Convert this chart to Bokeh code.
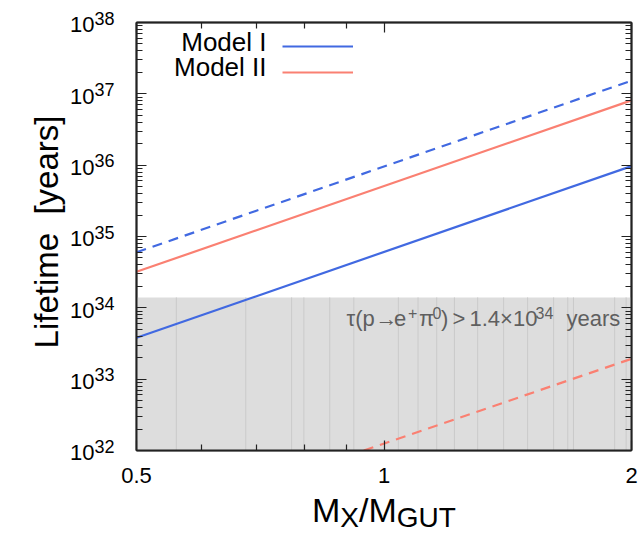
import math
from bokeh.plotting import figure
from bokeh.layouts import row, column
from bokeh.models import (Range1d, LogAxis, FixedTicker, CustomJSTickFormatter,
                          BoxAnnotation, Label, Legend, LegendItem)
from bokeh.embed import file_html
from bokeh.resources import INLINE

# ---------------- data ----------------
mass = [0.5, 2.0]                       # M_X / M_GUT
model1_solid = [3.8e33, 9.7e35]
model1_dashed = [6.0e34, 1.53e37]
model2_solid = [3.2e34, 8.1e36]
model2_dashed_mass = [0.945, 2.0]       # visible part of the Model II dashed line
model2_dashed = [1.0e32, 1.93e33]
limit = 1.4e34                          # tau(p -> e+ pi0) bound
band_lines = [0.559, 0.679, 0.772, 0.799, 0.859, 0.919, 1.041, 1.10, 1.159,
              1.218, 1.30, 1.398, 1.495, 1.608, 1.673, 1.70, 1.908, 1.97]
x_ticks = [0.5, 1, 2]
x_minor = [0.6, 0.7, 0.8, 0.9]
y_exps = [32, 33, 34, 35, 36, 37, 38]
legend_names = ["Model I", "Model II"]
y_title = "Lifetime\u00a0\u00a0[years]"
# annotation pieces: (text, x offset from right edge, superscript?)
annotation = [("τ(p", -285, False), ("→", -256, False), ("e", -237.5, False),
              ("+", -223.5, True), ("π", -212.5, False), ("0", -199, True),
              (")", -190.5, False), (">", -179, False), ("1.4×10", -162, False),
              ("34", -96, True), ("years", -65, False)]

BLUE = "#4169E1"
RED = "#FA8072"
FONT = "Liberation Sans"
MID = 0.3465   # distance baseline -> text middle, in font sizes

# ---------------- layout constants ----------------
W, H = 643, 533
LEFT_W = 120
FRAME_LEFT, FRAME_TOP, FRAME_W, FRAME_H = 136, 22, 495, 428
MAIN_H = 490
Y_MIN_EXP, Y_MAX_EXP = y_exps[0], y_exps[-1]

y_ticks = [10.0 ** k for k in y_exps]
y_minor = [m * 10.0 ** k for k in y_exps[:-1] for m in range(2, 10)]


def text_label(x, y, txt, dx, baseline_below, size, align="left", color="black", angle=0.0):
    """Label whose alphabetic baseline sits `baseline_below` px under (x, y)."""
    return Label(x=x, y=y, x_offset=dx, y_offset=-(baseline_below - MID * size),
                 text=txt, text_align=align, text_baseline="middle", angle=angle,
                 text_font=FONT, text_font_size=f"{size}px", text_color=color)


# ---------------- main plot ----------------
p = figure(width=W - LEFT_W, height=MAIN_H, x_axis_type="log", y_axis_type="log",
           x_range=Range1d(0.5, 2.0), y_range=Range1d(10.0 ** Y_MIN_EXP, 10.0 ** Y_MAX_EXP),
           title=None, output_backend="svg", toolbar_location=None,
           min_border_left=FRAME_LEFT - LEFT_W,
           min_border_right=W - FRAME_LEFT - FRAME_W,
           min_border_top=FRAME_TOP, min_border_bottom=MAIN_H - FRAME_TOP - FRAME_H)
p.grid.grid_line_color = None
p.outline_line_color = "#222222"
p.outline_line_width = 1.5
p.background_fill_color = "white"

empty = CustomJSTickFormatter(code="return ''")

def style_axis(ax, ticker, labels=False):
    ax.ticker = ticker
    ax.axis_line_color = "#222222"
    ax.axis_line_width = 2
    ax.major_tick_in = 10
    ax.major_tick_out = 0
    ax.minor_tick_in = 6
    ax.minor_tick_out = 0
    ax.major_tick_line_color = "#222222"
    ax.minor_tick_line_color = "#222222"
    ax.major_tick_line_width = 1.2
    ax.minor_tick_line_width = 1.2
    if labels:
        ax.formatter = CustomJSTickFormatter(code="return tick.toString()")
        ax.major_label_text_font = FONT
        ax.major_label_text_font_size = "22px"
        ax.major_label_text_color = "black"
        ax.major_label_standoff = 17
    else:
        ax.formatter = empty
        ax.major_label_text_font_size = "1px"
        ax.major_label_standoff = 0

style_axis(p.xaxis[0], FixedTicker(ticks=x_ticks, minor_ticks=x_minor), labels=True)
style_axis(p.yaxis[0], FixedTicker(ticks=y_ticks, minor_ticks=y_minor))
top = LogAxis()
style_axis(top, FixedTicker(ticks=x_ticks, minor_ticks=x_minor))
p.add_layout(top, "above")
right = LogAxis()
style_axis(right, FixedTicker(ticks=y_ticks, minor_ticks=y_minor))
p.add_layout(right, "right")

# shaded excluded region
p.add_layout(BoxAnnotation(top=limit, fill_color="#dddddd", fill_alpha=1.0,
                           line_color=None, level="underlay"))
p.segment(x0=band_lines, x1=band_lines, y0=[10.0 ** Y_MIN_EXP] * len(band_lines),
          y1=[limit] * len(band_lines), line_color="#cacaca", line_width=1)

r1 = p.line(mass, model1_solid, line_color=BLUE, line_width=2.2)
p.line(mass, model1_dashed, line_color=BLUE, line_width=2.2, line_dash="10 7")
r2 = p.line(mass, model2_solid, line_color=RED, line_width=2.2)
p.line(model2_dashed_mass, model2_dashed, line_color=RED, line_width=2.2, line_dash="10 7")

# legend (line samples) -- names drawn to the left of them
leg = Legend(items=[LegendItem(label=" ", renderers=[r1]),
                    LegendItem(label=" ", renderers=[r2])],
             location=(146, 365), glyph_width=71, glyph_height=26,
             label_height=26, label_width=0, label_standoff=0,
             spacing=0, padding=0, margin=0,
             border_line_color=None, background_fill_alpha=0,
             label_text_font_size="1px")
p.add_layout(leg, "center")
for i, name in enumerate(legend_names):
    p.add_layout(text_label(0.5, 10.0 ** Y_MAX_EXP, name, 130, 29 + 24.7 * i, 26,
                            align="right"))

# bound annotation (pieces for real super-scripts)
for txt, dx, sup in annotation:
    p.add_layout(text_label(2.0, limit, txt, dx, 21 if sup else 28.5,
                            16 if sup else 22, color="#5f5f5f"))

# ---------------- left strip: y tick labels and y title ----------------
dec_px = FRAME_H / (Y_MAX_EXP - Y_MIN_EXP)
top_exp = Y_MAX_EXP + FRAME_TOP / dec_px
bot_exp = Y_MIN_EXP - (H - FRAME_TOP - FRAME_H) / dec_px
lf = figure(width=LEFT_W, height=H, y_axis_type="log", title=None,
            x_range=Range1d(0, 1), y_range=Range1d(10.0 ** bot_exp, 10.0 ** top_exp),
            x_axis_location=None, y_axis_location=None,
            output_backend="svg", toolbar_location=None,
            min_border_left=0, min_border_right=0, min_border_top=0, min_border_bottom=0)
lf.grid.grid_line_color = None
lf.outline_line_color = None
for k in y_exps:
    lf.add_layout(text_label(1, 10.0 ** k, "10", -26, 10, 22, align="right"))
    lf.add_layout(text_label(1, 10.0 ** k, str(k), -26, 2, 18))
lf.add_layout(Label(x=1, y=10.0 ** ((Y_MIN_EXP + Y_MAX_EXP) / 2), x_offset=-74, y_offset=4.5,
                    text=y_title, angle=math.pi / 2,
                    text_align="center", text_baseline="middle",
                    text_font=FONT, text_font_size="33px", text_color="black"))

# ---------------- bottom strip: x title ----------------
bf = figure(width=W - LEFT_W, height=H - MAIN_H, x_axis_type="log", title=None,
            x_range=p.x_range, y_range=Range1d(0, 1),
            x_axis_location=None, y_axis_location=None,
            output_backend="svg", toolbar_location=None,
            min_border_left=FRAME_LEFT - LEFT_W, min_border_right=W - FRAME_LEFT - FRAME_W,
            min_border_top=0, min_border_bottom=0)
bf.grid.grid_line_color = None
bf.outline_line_color = None
for txt, dx, below, fs in [("M", -72, 31, 34), ("X", -43.7, 36.5, 28),
                           ("/M", -25, 31, 34), ("GUT", 12.8, 36.5, 28)]:
    bf.add_layout(text_label(1, 1, txt, dx, below, fs))

layout = row(lf, column(p, bf, spacing=0), spacing=0)
open("out.html", "w").write(file_html(layout, INLINE))
